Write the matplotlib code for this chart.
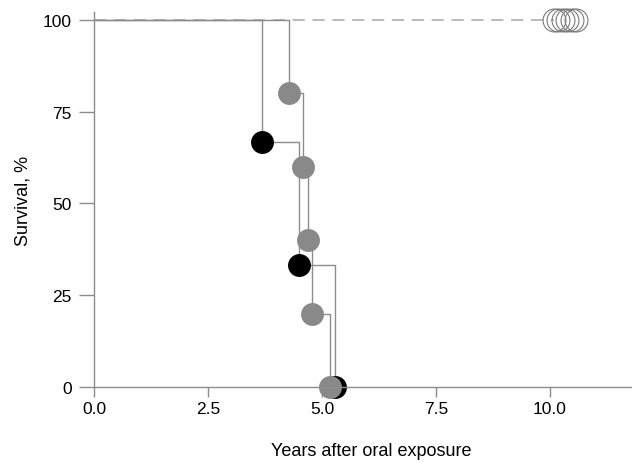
import matplotlib
matplotlib.use("Agg")
import matplotlib.pyplot as plt

plt.rcParams['font.family'] = ['Liberation Sans', 'DejaVu Sans']

# Data (years after oral exposure, survival %)
black_times = [3.68, 4.50, 5.29]
black_surv = [66.7, 33.3, 0.0]
gray_times = [4.28, 4.58, 4.69, 4.78, 5.18]
gray_surv = [80.0, 60.0, 40.0, 20.0, 0.0]
control_times = [10.08, 10.18, 10.28, 10.38, 10.48, 10.58]
control_surv = [100, 100, 100, 100, 100, 100]

xticks = [0.0, 2.5, 5.0, 7.5, 10.0]
xtick_labels = ["0.0", "2.5", "5.0", "7.5", "10.0"]
yticks = [0, 25, 50, 75, 100]
ytick_labels = ["0", "25", "50", "75", "100"]

fig = plt.figure(figsize=(6.32, 4.64), dpi=100)
ax = fig.add_axes([94/632, 1-388/464, 1-94/632, (388-13)/464])

line_col = '#8c8c8c'
gray_col = '#898989'


def step_xy(times, surv):
    xs, ys = [0.0], [100.0]
    prev = 100.0
    for t, s in zip(times, surv):
        xs += [t, t]
        ys += [prev, s]
        prev = s
    return xs, ys

# control dashed line
ax.plot([0, control_times[0]], [100, 100], color='#a8a8a8', lw=1.1,
        dashes=(8, 5), zorder=1, clip_on=False)

bx, by = step_xy(black_times, black_surv)
gx, gy = step_xy(gray_times, gray_surv)
ax.plot(bx, by, color=line_col, lw=1.0, zorder=2, clip_on=False)
ax.plot(gx, gy, color=line_col, lw=1.0, zorder=2, clip_on=False)

ax.plot(control_times, control_surv, linestyle='none', marker='o', ms=16.5,
        mfc='none', mec='#7a7a7a', mew=0.8, zorder=3, clip_on=False)
ax.plot(black_times, black_surv, linestyle='none', marker='o', ms=16.5,
        mfc='black', mec='black', mew=0, zorder=3, clip_on=False)
ax.plot(gray_times, gray_surv, linestyle='none', marker='o', ms=16.5,
        mfc=gray_col, mec=gray_col, mew=0, zorder=4, clip_on=False)

ax.set_xlim(0, (632-94)/45.6)
ax.set_ylim(0, 100 + 8/3.67)

for side in ['top', 'right']:
    ax.spines[side].set_visible(False)
for side in ['left', 'bottom']:
    ax.spines[side].set_color('#8c8c8c')
    ax.spines[side].set_linewidth(1.0)
    ax.spines[side].set_zorder(5)

ax.set_xticks(xticks)
ax.set_xticklabels(xtick_labels)
ax.set_yticks(yticks)
ax.set_yticklabels(ytick_labels)
ax.tick_params(axis='x', direction='out', length=7, width=1.0, color='#8c8c8c',
               labelsize=12.5, pad=3)
ax.tick_params(axis='y', direction='out', length=11, width=1.0, color='#8c8c8c',
               labelsize=12.5, pad=5)

ax.set_xlabel("Years after oral exposure", fontsize=13)
ax.xaxis.set_label_coords(0.515, -0.148)
ax.set_ylabel("Survival, %", fontsize=13, labelpad=8)

fig.savefig("out.png", dpi=100)
